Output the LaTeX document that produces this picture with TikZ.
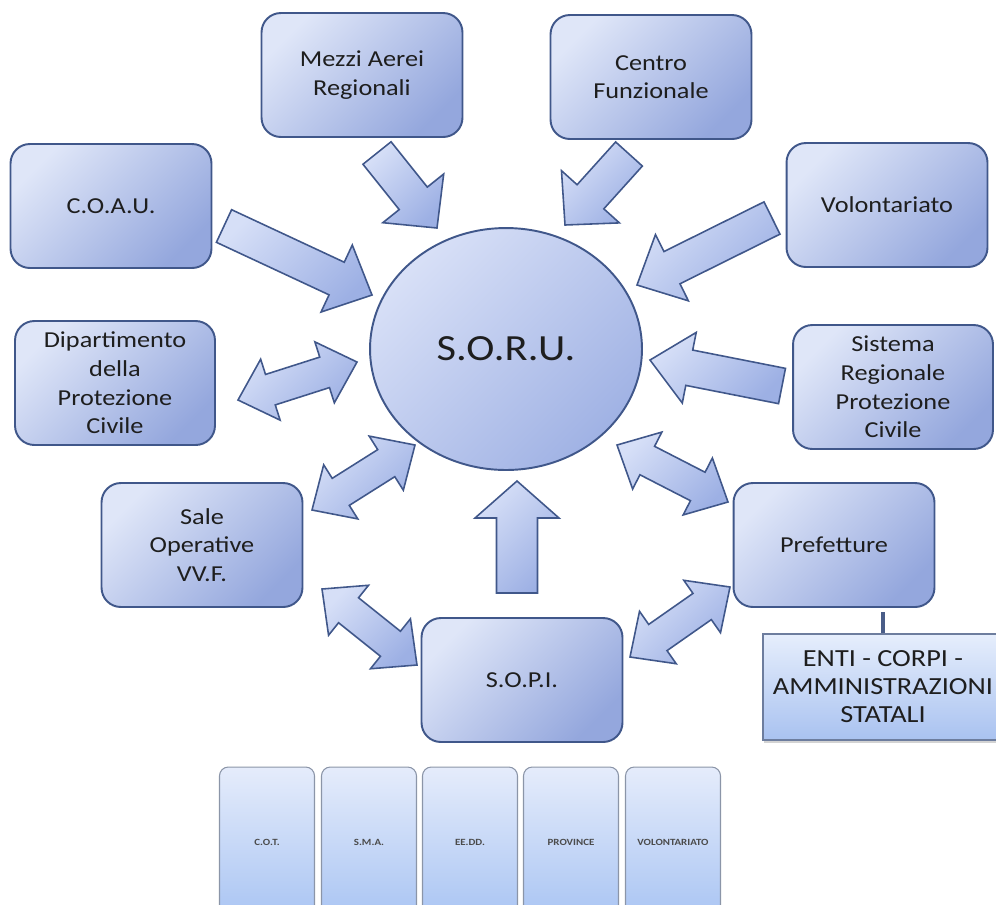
\documentclass[tikz,border=0pt]{standalone}
\usepackage{fontspec}
\setmainfont{Carlito}[FakeStretch=1.15]
\usetikzlibrary{calc,shadows,shapes.geometric}
\definecolor{boxLight}{HTML}{DFE6F8}
\definecolor{boxDark}{HTML}{94A7DD}
\definecolor{boxLine}{HTML}{40578A}
\definecolor{arrLight}{HTML}{D6DFF7}
\definecolor{arrDark}{HTML}{9DB0E4}
\definecolor{hubLight}{HTML}{D8E0F7}
\definecolor{hubDark}{HTML}{A0B2E4}
\definecolor{entiTop}{HTML}{E6EEFC}
\definecolor{entiBot}{HTML}{A9C2F0}
\definecolor{entiLine}{HTML}{6D7D9E}
\definecolor{tileTop}{HTML}{E5ECFB}
\definecolor{tileBot}{HTML}{AAC5F3}
\definecolor{tileLine}{HTML}{8B95A8}
\definecolor{inkDark}{HTML}{1E1E1E}
\tikzset{
  box/.style={draw=boxLine, line width=1.1pt, rounded corners=11pt,
              top color=boxLight, bottom color=boxDark, shading angle=45,
              minimum width=4.02cm, minimum height=2.48cm, align=center,
              text=inkDark, font=\fontsize{13}{16.3}\selectfont},
  hub/.style={ellipse, draw=boxLine, line width=1.1pt,
              top color=hubLight, bottom color=hubDark, shading angle=45,
              minimum width=5.44cm, minimum height=4.84cm,
              text=inkDark, font=\fontsize{21}{24}\selectfont},
  blockar/.style={draw=boxLine, line width=0.9pt, line join=miter,
                  top color=arrLight, bottom color=arrDark, shading angle=45},
  entibox/.style={draw=entiLine, line width=0.8pt, top color=entiTop, bottom color=entiBot,
                  drop shadow={shadow xshift=0.6pt, shadow yshift=-1.6pt, opacity=0.35},
                  minimum width=4.8cm, minimum height=2.12cm, align=center,
                  text=inkDark, font=\fontsize{14}{15.9}\selectfont},
  tile/.style={draw=tileLine, line width=0.6pt, rounded corners=5pt,
               top color=tileTop, bottom color=tileBot,
               minimum width=1.9cm, minimum height=3cm,
               text=inkDark!80, font=\fontsize{5.4}{6}\selectfont\bfseries},
  link/.style={draw=boxLine!85!gray, line width=2.3pt},
}
% block arrow: tail, tip, half shaft, half head, head length (px)
\newcommand\onearrow[5]{%
  \coordinate (hb) at ($(#2)!#5*0.02cm!(#1)$);
  \path[blockar] ($(#1)!#3*0.02cm!90:(#2)$) -- ($(hb)!#3*0.02cm!90:(#2)$)
    -- ($(hb)!#4*0.02cm!90:(#2)$) -- (#2) -- ($(hb)!#4*0.02cm!-90:(#2)$)
    -- ($(hb)!#3*0.02cm!-90:(#2)$) -- ($(#1)!#3*0.02cm!-90:(#2)$) -- cycle;
}
% double block arrow: end, end, half shaft, half head, head length (px)
\newcommand\twoarrow[5]{%
  \coordinate (ha) at ($(#1)!#5*0.02cm!(#2)$);
  \coordinate (hb) at ($(#2)!#5*0.02cm!(#1)$);
  \path[blockar] (#1) -- ($(ha)!#4*0.02cm!90:(#2)$) -- ($(ha)!#3*0.02cm!90:(#2)$)
    -- ($(hb)!#3*0.02cm!-90:(#1)$) -- ($(hb)!#4*0.02cm!-90:(#1)$) -- (#2)
    -- ($(hb)!#4*0.02cm!90:(#1)$) -- ($(hb)!#3*0.02cm!90:(#1)$)
    -- ($(ha)!#3*0.02cm!-90:(#2)$) -- ($(ha)!#4*0.02cm!-90:(#2)$) -- cycle;
}

\begin{document}
\begin{tikzpicture}[x=0.02cm,y=-0.02cm]
\useasboundingbox (0,0) rectangle (996,904);
\clip (0,0) rectangle (996,904);
% centre
\node[hub] (soru) at (506,349) {S.O.R.U.};
% outer boxes
\node[box] (mezzi) at (362,75)  {Mezzi Aerei\\Regionali};
\node[box] (centro) at (651,77) {Centro\\Funzionale};
\node[box] (coau) at (111,206)  {C.O.A.U.};
\node[box] (volont) at (887,205) {Volontariato};
\node[box, minimum width=4cm] (dipart) at (115,383) {Dipartimento\\della\\Protezione\\Civile};
\node[box, minimum width=4cm] (sistema) at (893,387) {Sistema\\Regionale\\Protezione\\Civile};
\node[box] (sale) at (202,545)  {Sale\\Operative\\VV.F.};
\node[box] (pref) at (834,545)  {Prefetture};
\node[box] (sopi) at (522,680)  {S.O.P.I.};
% enti
\node[entibox] (enti) at (883,687) {ENTI - CORPI -\\AMMINISTRAZIONI\\STATALI};
\draw[link] (enti.north) -- ($(enti.north |- pref.south)+(0,4)$);
% bottom tiles
\node[tile] (cot) at (267,842) {C.O.T.};
\node[tile] (sma) at (369,842) {S.M.A.};
\node[tile] (eedd) at (470,842) {EE.DD.};
\node[tile] (prov) at (571,842) {PROVINCE};
\node[tile] (volt) at (673,842) {VOLONTARIATO};
% arrow ends
\coordinate (mezzi-t) at (377,153);  \coordinate (mezzi-h) at (437,228);
\coordinate (centro-t) at (629,154); \coordinate (centro-h) at (565,225);
\coordinate (coau-t) at (224,226);   \coordinate (coau-h) at (372,295);
\coordinate (volont-t) at (772,218); \coordinate (volont-h) at (637,285);
\coordinate (sistema-t) at (782,386); \coordinate (sistema-h) at (650,360);
\coordinate (sopi-t) at (517,593);   \coordinate (sopi-h) at (517,481);
\coordinate (dip-a) at (238,400);    \coordinate (dip-b) at (357,362);
\coordinate (sale-a) at (312,510);   \coordinate (sale-b) at (415,445);
\coordinate (pref-a) at (617,445);   \coordinate (pref-b) at (728,502);
\coordinate (ss-a) at (322,589);     \coordinate (ss-b) at (417,665);
\coordinate (sp-a) at (630,657);     \coordinate (sp-b) at (730,587);
% block arrows into S.O.R.U.
\onearrow{mezzi-t}{mezzi-h}{18}{39}{38}
\onearrow{centro-t}{centro-h}{18}{39}{38}
\onearrow{coau-t}{coau-h}{18}{37}{39}
\onearrow{volont-t}{volont-h}{18}{37}{39}
\onearrow{sistema-t}{sistema-h}{18}{36}{40}
\onearrow{sopi-t}{sopi-h}{20.5}{42}{37}
% two-way arrows
\twoarrow{dip-a}{dip-b}{16}{32}{34}
\twoarrow{sale-a}{sale-b}{16}{32}{34}
\twoarrow{pref-a}{pref-b}{16}{32}{34}
\twoarrow{ss-a}{ss-b}{16}{32}{34}
\twoarrow{sp-a}{sp-b}{16}{32}{34}
\end{tikzpicture}
\end{document}
